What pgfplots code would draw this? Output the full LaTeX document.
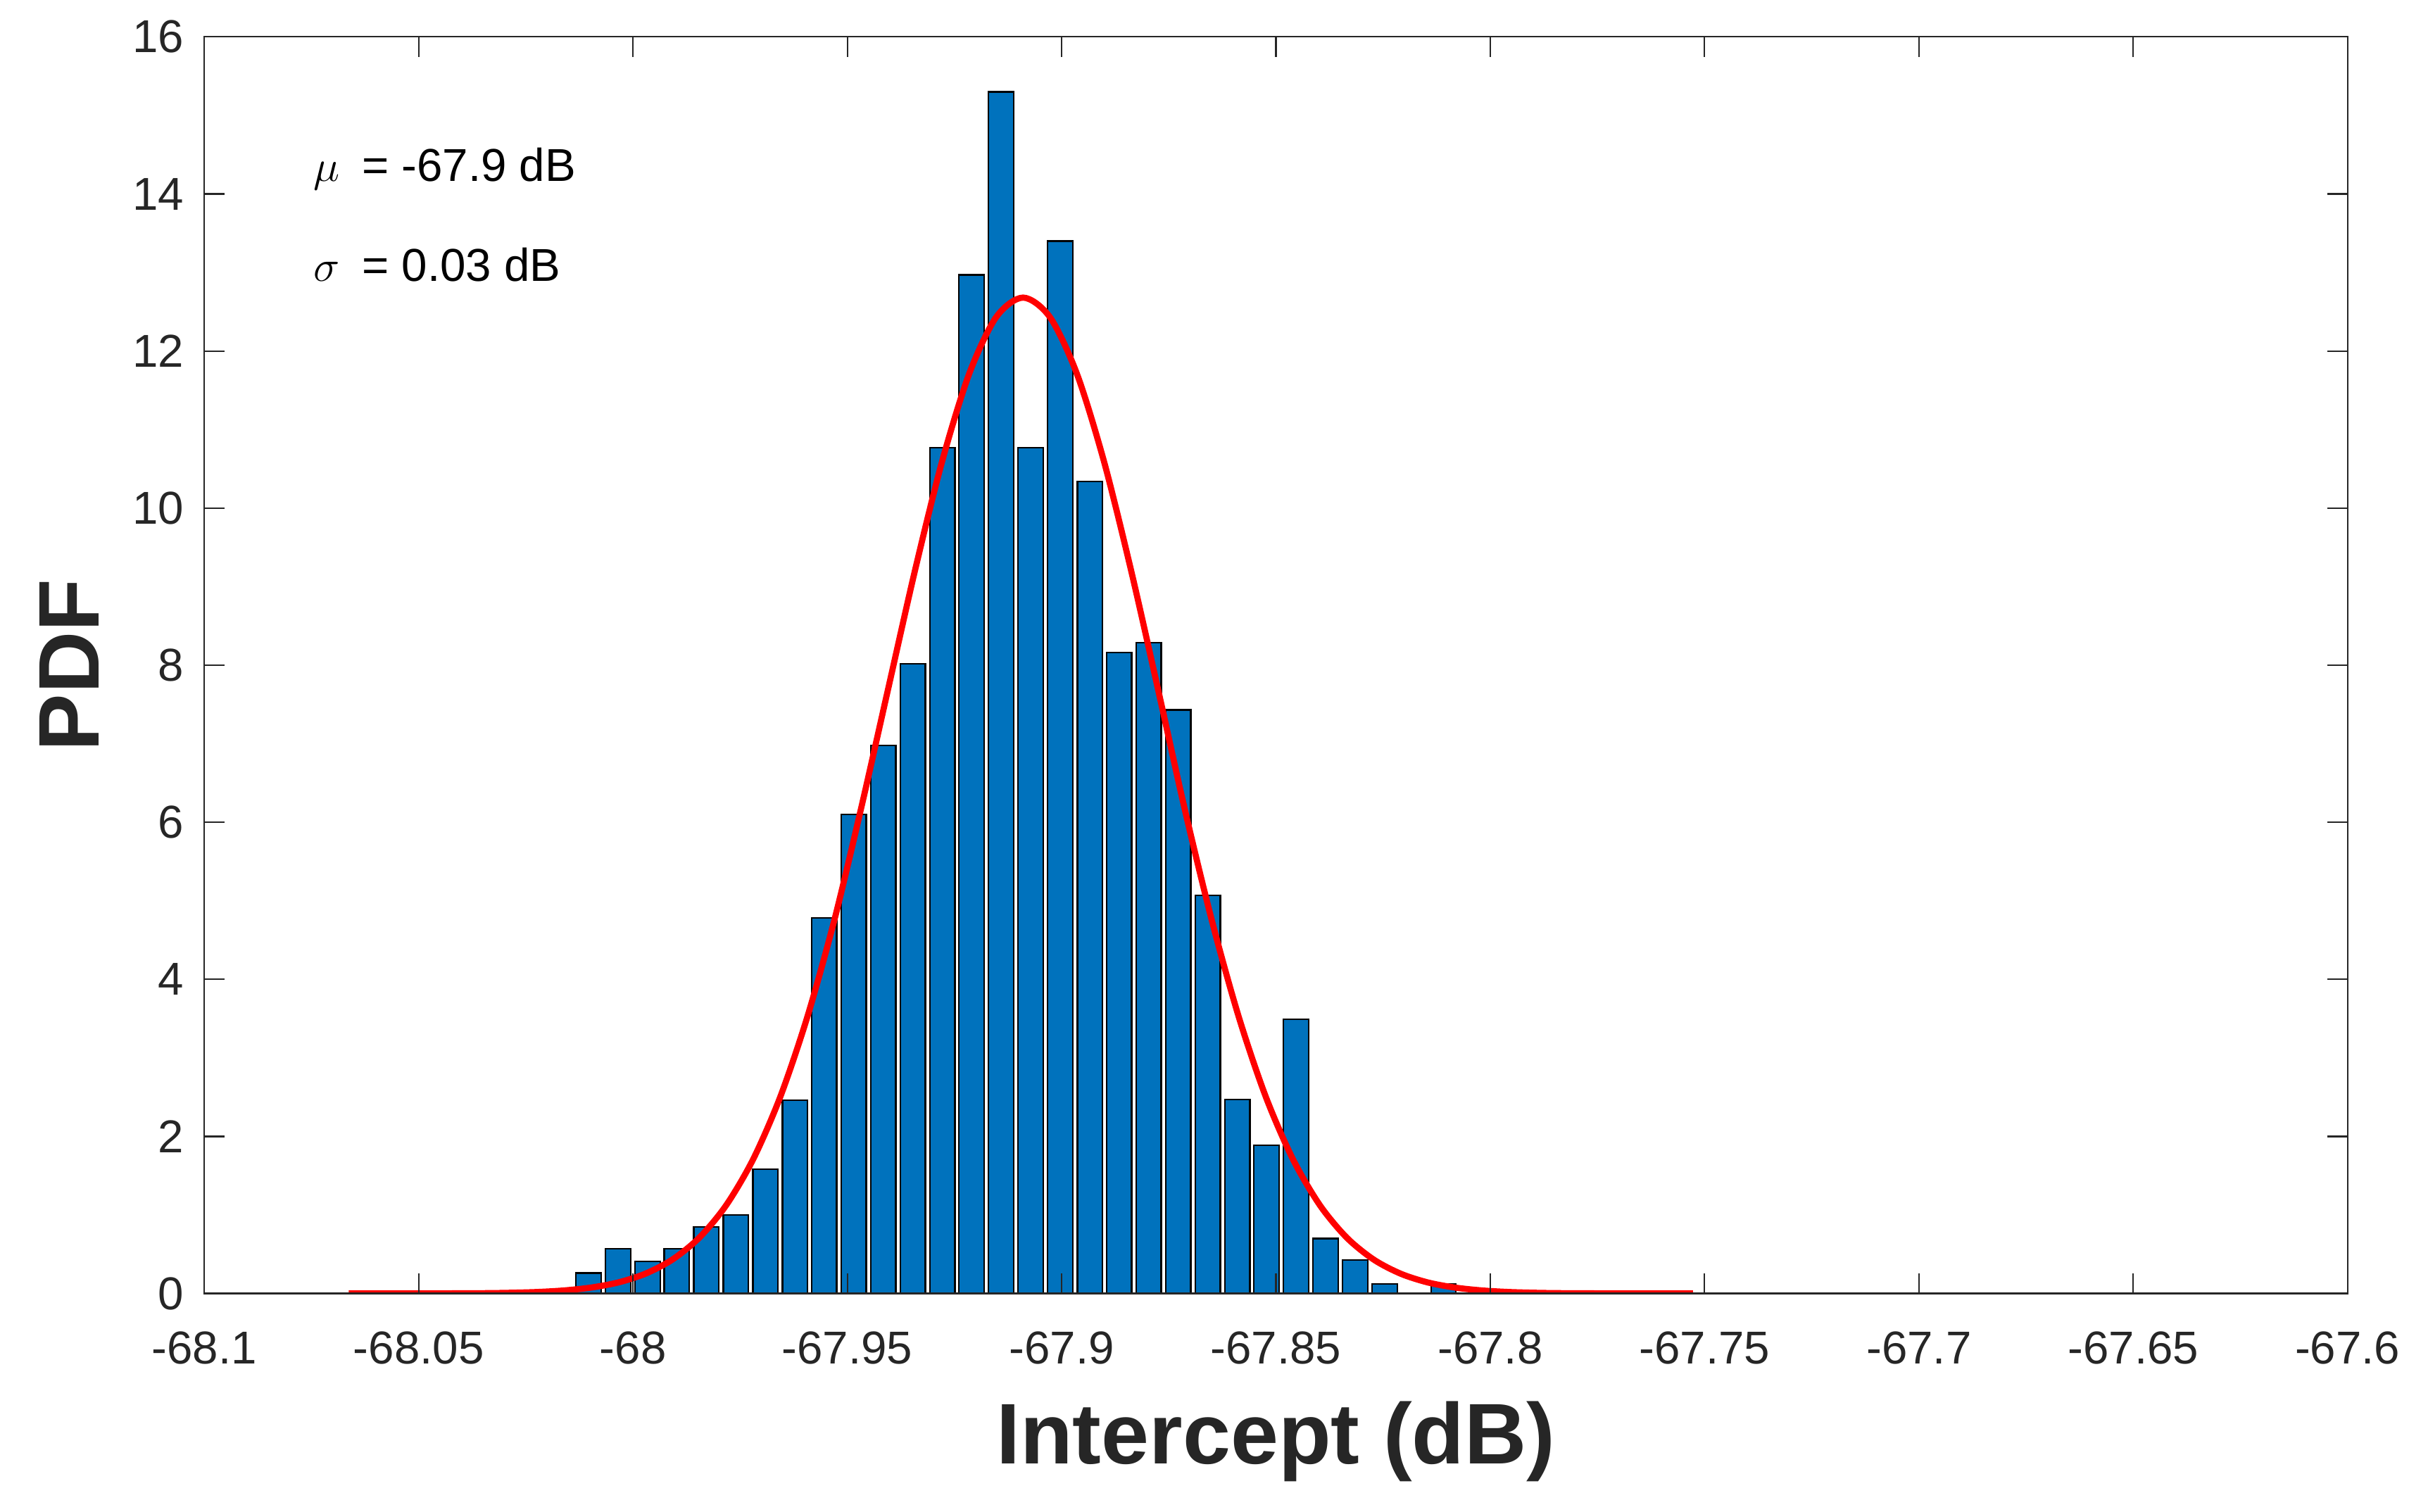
\documentclass[border=0pt]{standalone}
\usepackage{pgfplots}
\pgfplotsset{compat=1.18}
\usepackage{fontspec}
\setmainfont{Liberation Sans}
\definecolor{barblue}{RGB}{0,114,189}
\definecolor{axgray}{RGB}{38,38,38}
\begin{document}
\begin{tikzpicture}
\begin{axis}[
  scale only axis, width=697.5pt, height=409pt,
  xmin=-68.1, xmax=-67.6, ymin=0, ymax=16,
  xtick={-68.1,-68.05,-68,-67.95,-67.9,-67.85,-67.8,-67.75,-67.7,-67.65,-67.6},
  ytick={0,2,4,6,8,10,12,14,16},
  tick align=inside, major tick length=6.5pt,
  axis line style={axgray, line width=0.5pt},
  tick style={axgray, line width=0.5pt},
  every tick label/.append style={font=\fontsize{15}{18}\selectfont, text=axgray},
  /pgf/number format/assume math mode=true,
  scaled x ticks=false, scaled y ticks=false,
  xticklabel style={yshift=-9pt, /pgf/number format/precision=2},
  yticklabel style={xshift=-3.2pt},
  xlabel={Intercept (dB)}, ylabel={PDF},
  label style={font=\fontsize{28}{34}\selectfont\bfseries, text=axgray},
  xlabel style={at={(axis description cs:0.5,-0.118)}, anchor=center},
  ylabel style={at={(axis description cs:-0.0631,0.5)}, anchor=center},
  axis on top,
]
\addplot[ybar, bar width=0.00585, fill=barblue, draw=black, line width=0.5pt] coordinates {
(-68.0104,0.26) (-68.0035,0.57) (-67.9966,0.41) (-67.9898,0.57) (-67.9829,0.85)
(-67.9760,1.00) (-67.9691,1.58) (-67.9622,2.46) (-67.9554,4.78) (-67.9485,6.10)
(-67.9416,6.98) (-67.9347,8.02) (-67.9278,10.77) (-67.9210,12.97) (-67.9141,15.30)
(-67.9072,10.77) (-67.9003,13.40) (-67.8934,10.34) (-67.8866,8.16) (-67.8797,8.29)
(-67.8728,7.43) (-67.8659,5.07) (-67.8590,2.47) (-67.8522,1.89) (-67.8453,3.49)
(-67.8384,0.70) (-67.8315,0.43) (-67.8246,0.12) (-67.8109,0.12)
};
\addplot[red, line width=2pt, smooth, no markers] coordinates {
(-68.0663,0.000) (-68.0474,0.001) (-68.0348,0.004) (-68.0286,0.009) (-68.0223,0.019)
(-68.0160,0.039) (-68.0097,0.076) (-68.0034,0.141) (-67.9971,0.252) (-67.9908,0.432)
(-67.9845,0.712) (-67.9782,1.128) (-67.9719,1.716) (-67.9656,2.509) (-67.9593,3.526)
(-67.9530,4.759) (-67.9468,6.172) (-67.9405,7.691) (-67.9342,9.208) (-67.9279,10.591)
(-67.9216,11.705) (-67.9153,12.429) (-67.9090,12.680) (-67.9027,12.429) (-67.8964,11.705)
(-67.8901,10.591) (-67.8838,9.208) (-67.8775,7.691) (-67.8713,6.172) (-67.8650,4.759)
(-67.8587,3.526) (-67.8524,2.509) (-67.8461,1.716) (-67.8398,1.128) (-67.8335,0.712)
(-67.8272,0.432) (-67.8209,0.252) (-67.8146,0.141) (-67.8083,0.076) (-67.8020,0.039)
(-67.7957,0.019) (-67.7895,0.009) (-67.7832,0.004) (-67.7706,0.001) (-67.7527,0.000)
};
\node[anchor=base west, inner sep=0pt, font=\fontsize{15}{18}\selectfont] at (axis cs:-68.0746,14.16) {$\mu$\hspace{3pt} = -67.9 dB};
\node[anchor=base west, inner sep=0pt, font=\fontsize{15}{18}\selectfont] at (axis cs:-68.0746,12.89) {$\sigma$\hspace{3pt} = 0.03 dB};
\end{axis}
\pgfresetboundingbox
\path ([shift={(-66.5pt,-71pt)}]current axis.south west) rectangle ([shift={(20pt,12pt)}]current axis.north east);
\end{tikzpicture}
\end{document}
